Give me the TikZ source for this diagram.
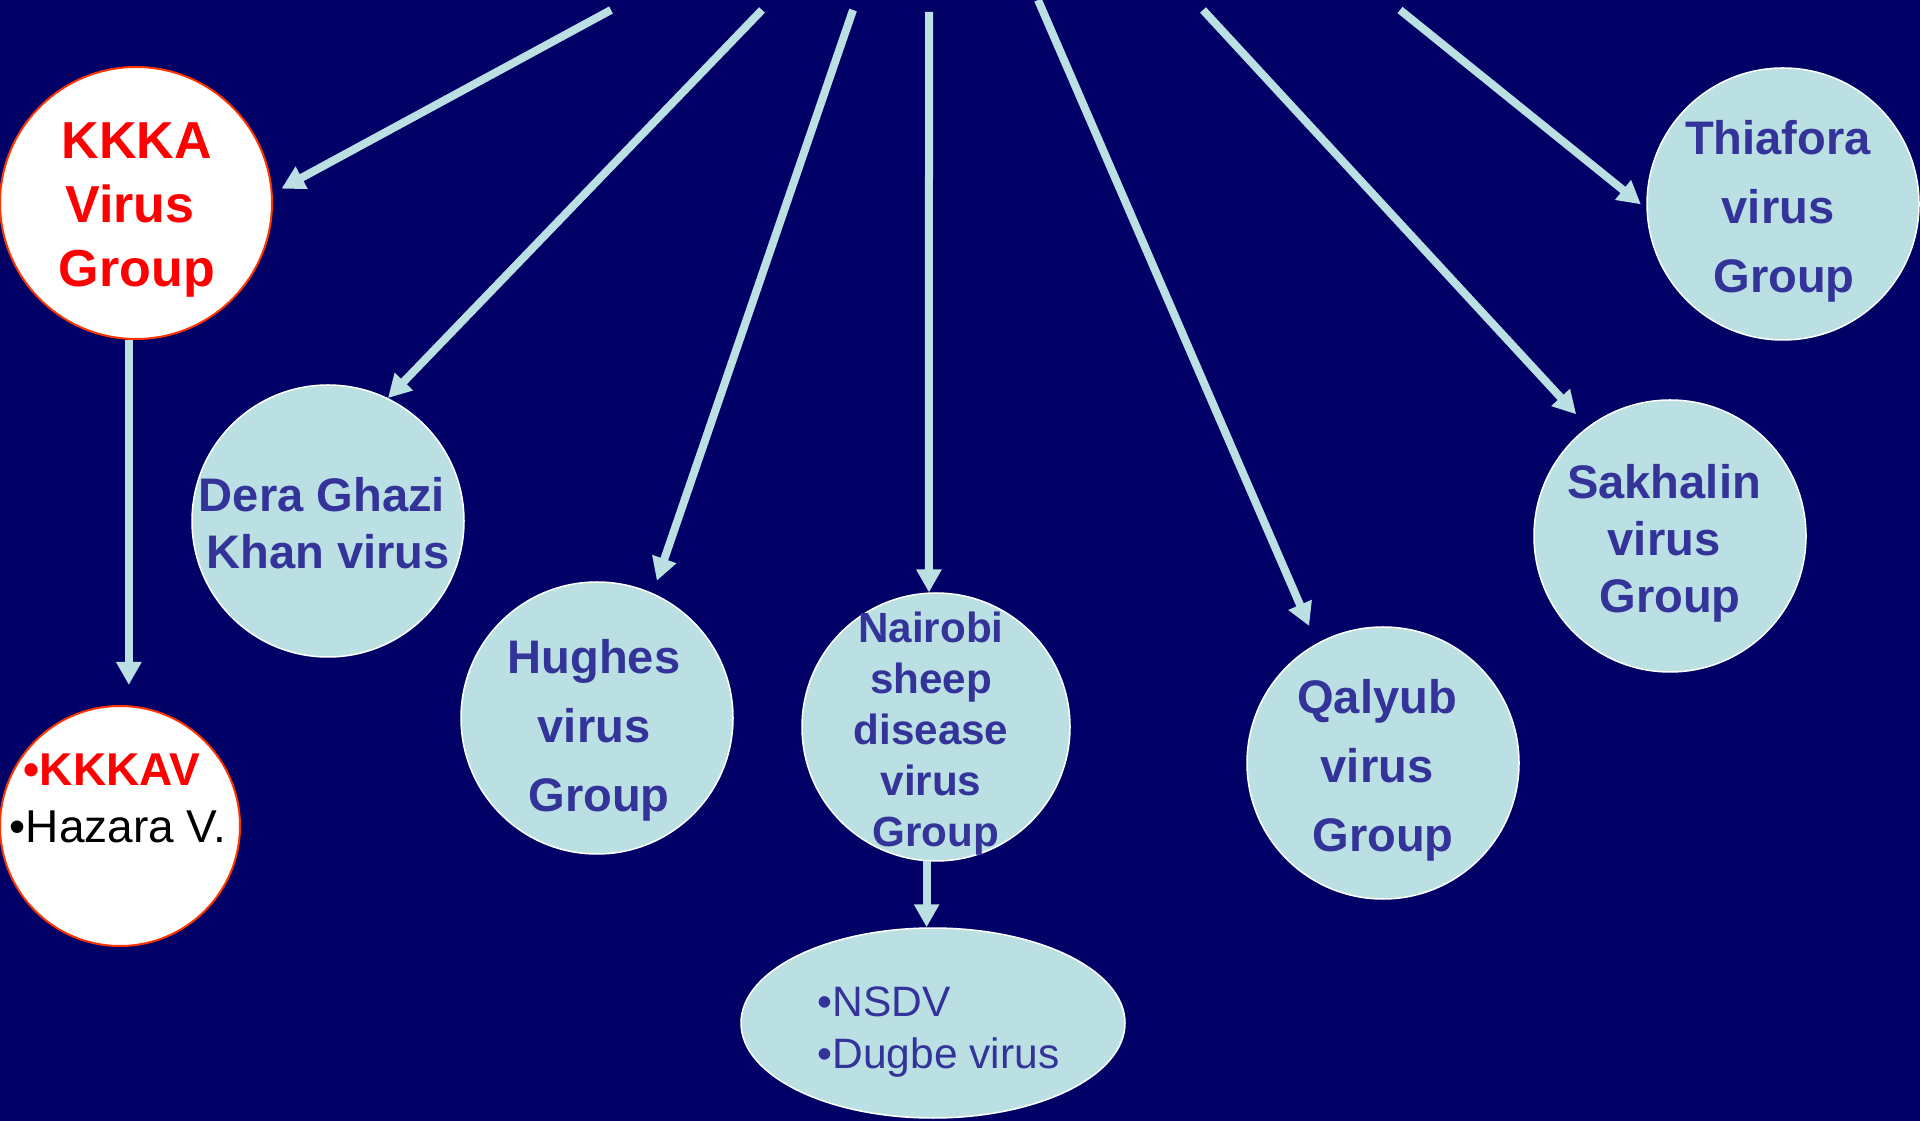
\documentclass[tikz,border=0pt]{standalone}
\usepackage{fontspec}
\setmainfont{Liberation Sans}
\usetikzlibrary{arrows.meta,shapes.geometric}
\definecolor{bgnavy}{RGB}{0,0,102}
\definecolor{paleblue}{RGB}{187,224,227}
\definecolor{grpblue}{RGB}{51,51,153}
\definecolor{kkred}{RGB}{255,0,0}
\definecolor{kkrim}{RGB}{255,51,0}
\newcommand{\nudge}[1]{\hspace*{#1}}

\begin{document}
\begin{tikzpicture}[
    grp/.style={circle, fill=paleblue, draw=white, line width=0.015cm, minimum size=2.72cm},
    kkgrp/.style={circle, fill=white, draw=kkrim, line width=0.02cm},
    lbl/.style={align=center, inner sep=0pt, text=grpblue},
    bigfont/.style={font=\bfseries\fontsize{13.4pt}{19.6pt}\selectfont},
    midfont/.style={font=\bfseries\fontsize{13.4pt}{16.2pt}\selectfont},
    conn/.style={draw=paleblue, line width=0.08cm, -{Triangle[length=0.23cm,width=0.24cm]}}
  ]
  \useasboundingbox (0,0) rectangle (19.2,-11.21);
  \fill[bgnavy] (0,0) rectangle (19.2,-11.21);

  % groups
  \node[kkgrp, minimum size=2.72cm] (kkka) at (1.36,-2.03) {};
  \node[kkgrp, minimum size=2.40cm] (kkkav) at (1.20,-8.26) {};
  \node[grp] (dera) at (3.28,-5.21) {};
  \node[grp] (hughes) at (5.97,-7.18) {};
  \node[grp, minimum size=2.68cm] (nairobi) at (9.36,-7.27) {};
  \node[grp] (qalyub) at (13.83,-7.63) {};
  \node[grp] (sakhalin) at (16.70,-5.36) {};
  \node[grp] (thiafora) at (17.83,-2.04) {};
  \node[ellipse, fill=paleblue, draw=white, line width=0.015cm,
        minimum width=3.84cm, minimum height=1.90cm] (nsdv) at (9.33,-10.23) {};

  % labels
  \node[lbl, text=kkred, font=\bfseries\fontsize{14.8pt}{18.2pt}\selectfont] (kkkatxt) at (1.37,-2.10)
    {KKKA\\\nudge{-0.14cm}Virus\\Group};
  \node[lbl, text=black, font=\fontsize{13.1pt}{16.2pt}\selectfont] (kkkavtxt) at (1.18,-7.98)
    {\nudge{-0.12cm}{\color{kkred}\bfseries •KKKAV}\\•Hazara V.};
  \node[lbl, midfont] (deratxt) at (3.25,-5.23) {\nudge{-0.06cm}Dera Ghazi\\\nudge{0.06cm}Khan virus};
  \node[lbl, bigfont] (hughestxt) at (5.94,-7.30) {Hughes\\virus\\\nudge{0.10cm}Group};
  \node[lbl, font=\bfseries\fontsize{12.0pt}{14.5pt}\selectfont] (nairobitxt) at (9.31,-7.34)
    {Nairobi\\sheep\\disease\\virus\\\nudge{0.10cm}Group};
  \node[lbl, bigfont] (qalyubtxt) at (13.77,-7.70) {Qalyub\\virus\\\nudge{0.12cm}Group};
  \node[lbl, midfont] (sakhalintxt) at (16.64,-5.43) {Sakhalin\\virus\\\nudge{0.12cm}Group};
  \node[lbl, bigfont] (thiaforatxt) at (17.78,-2.11) {Thiafora\\virus\\\nudge{0.12cm}Group};
  \node[lbl, align=left, anchor=west, font=\fontsize{12.1pt}{14.8pt}\selectfont] (nsdvtxt) at (8.17,-10.32)
    {•NSDV\\•Dugbe virus};

  % free ends at the top
  \coordinate (top1) at (6.11,-0.10);
  \coordinate (top2) at (7.62,-0.10);
  \coordinate (top3) at (8.53,-0.10);
  \coordinate (top4) at (9.29,-0.12);
  \coordinate (top5) at (10.38,0);
  \coordinate (top6) at (12.03,-0.10);
  \coordinate (top7) at (14.00,-0.10);

  \draw[conn, shorten >=0.10cm] (top1) -- (kkka.4);
  \draw[conn] (top2) -- (dera.64);
  \draw[conn, shorten >=0.13cm] (top3) -- (hughes.66);
  \draw[conn] (top4) -- (nairobi.93);
  \draw[conn, shorten >=0.19cm] (top5) -- (qalyub.119);
  \draw[conn, shorten >=0.17cm] (top6) -- (sakhalin.127);
  \draw[conn, shorten >=0.07cm] (top7) -- (thiafora.182);

  \draw[conn, shorten >=0.20cm] (kkka.267) -- (kkka.267 |- kkkav.north);
  \draw[conn] (nairobi.266) -- (nairobi.266 |- nsdv.north);
\end{tikzpicture}
\end{document}
